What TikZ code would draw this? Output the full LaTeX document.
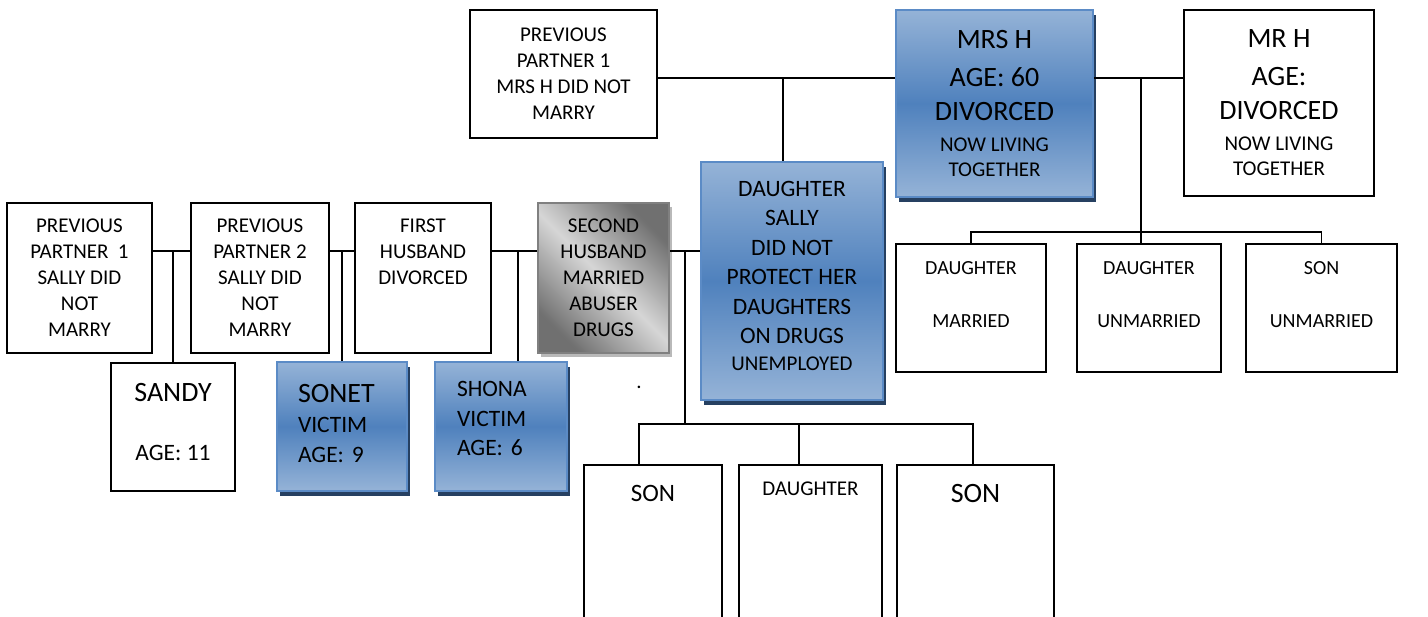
\documentclass[tikz,border=0pt]{standalone}
\usepackage{fontspec}
\setmainfont{Carlito}
\frenchspacing
\usetikzlibrary{shadows}
\definecolor{boxblue}{RGB}{79,129,189}
\definecolor{paleblue}{RGB}{149,179,215}
\definecolor{edgeblue}{RGB}{91,139,198}
\definecolor{deepblue}{RGB}{38,64,97}
\definecolor{darkgrey}{RGB}{112,112,112}
\definecolor{palegrey}{RGB}{214,214,214}
\newcommand\bigtxt{\fontsize{28}{32}\selectfont}
\newcommand\midtxt{\fontsize{23.5}{29.5}\selectfont}
\newcommand\normtxt{\fontsize{21}{26}\selectfont}
\newcommand\kidtxt{\fontsize{20}{26.5}\selectfont}
\tikzset{
  plainbox/.style={draw, line width=1.6pt, align=center, inner sep=0pt, font=\normtxt},
  bluebox/.style={plainbox, draw=edgeblue, top color=paleblue, bottom color=paleblue,
    middle color=boxblue, drop shadow={shadow xshift=3pt, shadow yshift=-5pt, fill=deepblue, opacity=1}},
  greybox/.style={plainbox, draw=gray, top color=darkgrey, bottom color=darkgrey,
    middle color=palegrey, shading angle=-45, drop shadow={shadow xshift=3pt, shadow yshift=-4pt, fill=gray!55, opacity=1}},
  kidbox/.style={plainbox, anchor=north, text depth=170pt},
  link/.style={line width=1.6pt}
}
\begin{document}
\begin{tikzpicture}[x=1pt, y=-1pt]
  \useasboundingbox (0,0) rectangle (1428,617);
  \node[plainbox, minimum width=187pt, minimum height=128pt] (prevH) at (563.5,74)
    {PREVIOUS\\PARTNER 1\\MRS H DID NOT\\MARRY};
  \node[bluebox, font=\bigtxt, minimum width=197pt, minimum height=187pt] (mrsH) at (994.5,103.5)
    {MRS H\\[6pt]AGE: 60\\[2pt]DIVORCED\\[-1pt]{\normtxt NOW LIVING}\\[-7pt]{\normtxt TOGETHER}};
  \node[plainbox, font=\bigtxt, minimum width=190pt, minimum height=186pt] (mrH) at (1279,103)
    {MR H\\[6pt]AGE:\\[2pt]DIVORCED\\[-1pt]{\normtxt NOW LIVING}\\[-7pt]{\normtxt TOGETHER}};
  \node[bluebox, font=\midtxt, minimum width=182pt, minimum height=238pt] (sally) at (792,281)
    {DAUGHTER\\SALLY\\DID NOT\\PROTECT HER\\DAUGHTERS\\ON DRUGS\\[-2.5pt]{\normtxt UNEMPLOYED}\\[-19pt]~};
  \node[plainbox, minimum width=145pt, minimum height=150pt] (prevA) at (79.5,278)
    {PREVIOUS\\PARTNER\ \ 1\\SALLY DID\\NOT\\MARRY};
  \node[plainbox, minimum width=138pt, minimum height=150pt] (prevB) at (260,278)
    {PREVIOUS\\PARTNER 2\\SALLY DID\\NOT\\MARRY};
  \node[plainbox, minimum width=136pt, minimum height=150pt] (firstHusband) at (423,278)
    {FIRST\\HUSBAND\\DIVORCED\\~\\~};
  \node[greybox, minimum width=131pt, minimum height=150pt] (secondHusband) at (603.5,278)
    {SECOND\\HUSBAND\\MARRIED\\ABUSER\\DRUGS};
  \node[plainbox, font=\midtxt, minimum width=124pt, minimum height=128pt] (sandy) at (173,427)
    {{\bigtxt SANDY}\\~\\AGE: 11\\[-19pt]~};
  \node[bluebox, font=\midtxt, minimum width=130pt, minimum height=129pt, text width=88pt, align=left] (sonet) at (342,426.5)
    {{\bigtxt SONET}\\[1pt]VICTIM\\AGE: 9\\[-23pt]~};
  \node[bluebox, font=\midtxt, minimum width=132pt, minimum height=129pt, text width=88pt, align=left] (shona) at (501,426.5)
    {SHONA\\VICTIM\\AGE: 6\\[-14pt]~};
  \node[plainbox, font=\kidtxt, minimum width=150pt, minimum height=128pt] (auntA) at (971,308)
    {DAUGHTER\\~\\MARRIED\\~};
  \node[plainbox, font=\kidtxt, minimum width=144pt, minimum height=128pt] (auntB) at (1149,308)
    {DAUGHTER\\~\\UNMARRIED\\~};
  \node[plainbox, font=\kidtxt, minimum width=151pt, minimum height=128pt] (uncleC) at (1321.5,308)
    {SON\\~\\UNMARRIED\\~};
  \node[kidbox, font=\fontsize{25}{30}\selectfont, minimum width=138pt, text height=37pt] (sonA) at (653,464) {SON};
  \node[kidbox, font=\normtxt, minimum width=143pt, text height=30.5pt] (girl) at (810.5,464) {DAUGHTER};
  \node[kidbox, font=\bigtxt, minimum width=157pt, text height=38pt] (sonB) at (975.5,464) {SON};
  \node[anchor=base, font=\normtxt, inner sep=0pt] (stray) at (639,389) {.};
  \coordinate (wedH) at (783,78);
  \coordinate (wedMr) at (1141,78);
  \coordinate (kidsMr) at (1141,232);
  \coordinate (wedA) at (173,251);
  \coordinate (wedB) at (342,251);
  \coordinate (wedC) at (518,251);
  \coordinate (wedD) at (685,251);
  \coordinate (dropA) at (639,424);
  \coordinate (dropB) at (799,424);
  \coordinate (dropC) at (973,424);
  \begin{scope}[link]
    \draw (prevH.east |- wedH) -- (mrsH.west |- wedH);
    \draw (wedH) -- (wedH |- sally.north);
    \draw (mrsH.east |- wedMr) -- (mrH.west |- wedMr);
    \draw (wedMr) -- (wedMr |- auntB.north);
    \draw (auntA.north) |- (kidsMr) -| (uncleC.north);
    \draw (prevA.east |- wedA) -- (prevB.west |- wedA);
    \draw (wedA) -- (sandy.north);
    \draw (prevB.east |- wedB) -- (firstHusband.west |- wedB);
    \draw (wedB) -- (sonet.north);
    \draw (firstHusband.east |- wedC) -- (secondHusband.west |- wedC);
    \draw (wedC) -- (wedC |- shona.north);
    \draw (secondHusband.east |- wedD) -- (sally.west |- wedD);
    \draw (wedD) -- (wedD |- dropA);
    \draw (dropA |- sonA.north) -- (dropA) -- (dropC) -- (dropC |- sonB.north);
    \draw (dropB) -- (dropB |- girl.north);
  \end{scope}
\end{tikzpicture}
\end{document}
